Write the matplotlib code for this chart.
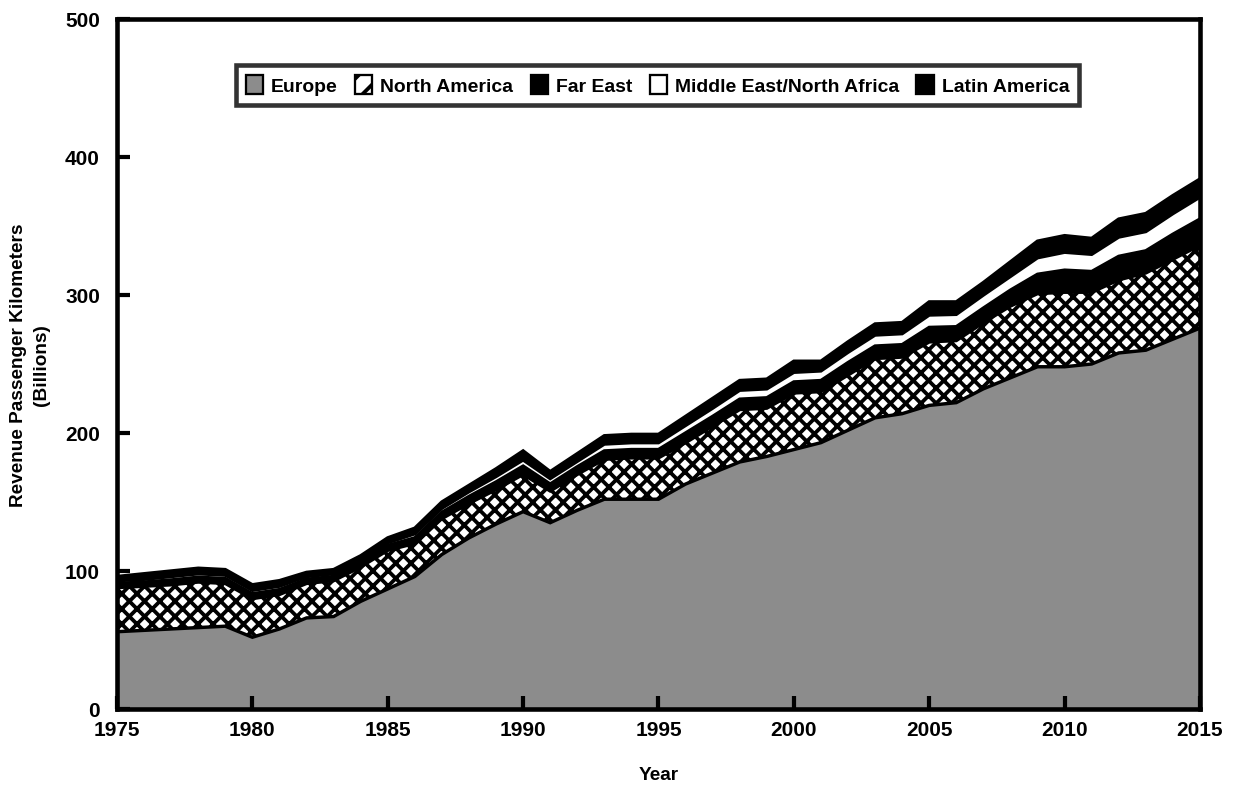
import matplotlib
matplotlib.use('Agg')
import matplotlib.pyplot as plt
import numpy as np
from matplotlib.patches import Patch

# revenue passenger kilometers by region (billions)
years = np.arange(1975, 2016)
europe = [56, 57, 58, 59, 60, 52, 58, 66, 67, 78, 87, 96, 112, 124, 134, 143, 135, 144, 152, 152,
          152, 163, 171, 179, 183, 188, 193, 202, 211, 214, 220, 222, 232, 240, 248, 248, 250, 258, 260, 268, 276]
north_america = [32, 32, 32, 33, 31, 28, 25, 25, 26, 25, 28, 24, 26, 25, 25, 27, 23, 26, 29, 30,
                 30, 30, 34, 38, 35, 41, 37, 40, 43, 41, 46, 45, 48, 52, 53, 54, 52, 53, 56, 58, 60]
far_east = [3, 3, 3.5, 3.5, 3.5, 3.5, 3.5, 3, 3, 3, 3.5, 4, 4.5, 5, 5.5, 6, 5, 5.5, 6, 6,
            6, 7, 7, 7.5, 7.5, 8, 8, 9, 9, 9, 10.5, 10, 10.5, 11.5, 14, 16, 15, 17, 16, 18, 19]
middle_east = [2, 2, 2.5, 2.5, 2.5, 2.5, 2.5, 2, 2, 2, 2, 3, 3, 3.5, 4, 4.5, 4, 4, 5, 5,
               5, 5.5, 6, 6.5, 6.5, 7, 7, 7.5, 8, 8, 9, 9, 9.5, 10, 12, 13, 12.5, 14, 14, 15, 16]
latin_america = [3, 4, 4, 4, 4, 4, 4, 3, 3, 3, 3.5, 4, 4.5, 4.5, 5.5, 6.5, 5, 5.5, 6, 6,
                 6, 6.5, 7, 7, 7, 8, 7, 7.5, 8, 8, 9.5, 9, 9, 10.5, 12, 12, 11.5, 13, 13, 13, 13]
regions = ['Europe', 'North America', 'Far East', 'Middle East/North Africa', 'Latin America']

plt.rcParams['font.family'] = ['Liberation Sans', 'DejaVu Sans']
plt.rcParams['font.weight'] = 'bold'
plt.rcParams['axes.labelweight'] = 'bold'
plt.rcParams['hatch.linewidth'] = 2.0
plt.rcParams['hatch.color'] = 'black'

# fill and hatch for each stacked layer
fills = ['#8c8c8c', 'white', 'black', 'white', 'black']
hatches = [None, 'xxx', None, None, None]

fig = plt.figure(figsize=(9, 5.737), dpi=137)
ax = fig.add_axes([0.0949, 0.0967, 0.8783, 0.8779])

layers = np.array([europe, north_america, far_east, middle_east, latin_america], dtype=float)
tops = np.cumsum(layers, axis=0)
bottoms = np.vstack([np.zeros(len(years)), tops[:-1]])

for lo, hi, fc, h in zip(bottoms, tops, fills, hatches):
    ax.fill_between(years, lo, hi, facecolor=fc, edgecolor='black', hatch=h, linewidth=0)
    ax.plot(years, hi, color='black', lw=1.8, solid_joinstyle='miter')

ax.set_xlim(1975, 2015)
ax.set_ylim(0, 500)
ax.set_xticks(range(1975, 2016, 5))
ax.set_yticks(range(0, 501, 100))
ax.tick_params(direction='in', length=7, width=2.2, labelsize=11, top=False, right=False)
ax.tick_params(axis='x', pad=6)
ax.tick_params(axis='y', pad=9)
for s in ax.spines.values():
    s.set_linewidth(2.4)

ax.set_xlabel('Year', fontsize=10, labelpad=14)
ax.set_ylabel('Revenue Passenger Kilometers\n(Billions)', fontsize=10, labelpad=8, linespacing=1.4)

handles = [Patch(facecolor=fc, edgecolor='black', hatch=h, linewidth=1.2)
           for fc, h in zip(fills, [None, '//', None, None, None])]
leg = ax.legend(handles, regions, loc='upper center', bbox_to_anchor=(0.499, 0.947), ncol=5,
                fontsize=10.2, frameon=True, fancybox=False, handlelength=0.9, handleheight=1.1,
                handletextpad=0.4, columnspacing=0.9, borderpad=0.5)
leg.get_frame().set_edgecolor('black')
leg.get_frame().set_linewidth(2.4)

fig.savefig('out.png', dpi=137)
